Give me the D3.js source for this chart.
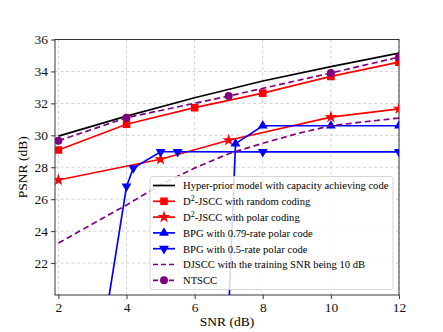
<!DOCTYPE html>
<html>
<head>
<meta charset="utf-8">
<script src="https://cdn.jsdelivr.net/npm/d3@7"></script>
<style>
    html, body { margin: 0; padding: 0; background: #fff; }
    text { font-family: "Liberation Serif", "DejaVu Serif", serif; }
</style>
</head>
<body>
<div id="chart"></div>
<script>
//****************************************************************************************
// PSNR versus SNR: comparison of coding schemes
//****************************************************************************************

// Data
// --------------------------
const snrHyper = [2, 4, 6, 8, 10, 12];
const psnrHyper = [29.95, 31.2, 32.35, 33.4, 34.3, 35.15];

const snrRandom = [2, 4, 6, 8, 10, 12];
const psnrRandom = [29.08, 30.69, 31.73, 32.64, 33.69, 34.58];

const snrPolar = [2, 5, 7, 10, 12];
const psnrPolar = [27.2, 28.5, 29.69, 31.14, 31.66];

const snrBpg79 = [7, 7.2, 8, 10, 12];
const psnrBpg79 = [19, 29.48, 30.6, 30.6, 30.6];

const snrBpg50 = [3, 4, 4.2, 5, 5.5, 8, 12];
const psnrBpg50 = [13.4, 26.8, 27.95, 28.97, 28.97, 28.96, 28.96];

const snrDjscc = [2, 3, 4, 5, 6, 7, 8, 9, 10, 11, 12];
const psnrDjscc = [23.25, 24.45, 25.64, 26.9, 27.95, 28.85, 29.5, 30.1, 30.6, 30.85, 31.08];

const snrNtscc = [2, 4, 7, 10, 12];
const psnrNtscc = [29.66, 31.1, 32.46, 33.9, 34.9];

const xTicks = [2, 4, 6, 8, 10, 12];
const yTicks = [22, 24, 26, 28, 30, 32, 34, 36];

// Series description: label, colour, marker, dash
const series = [
    { label: "Hyper-prior model with capacity achieving code", x: snrHyper, y: psnrHyper, color: "#000000", marker: null, dash: null },
    { label: "D|2|-JSCC with random coding", x: snrRandom, y: psnrRandom, color: "#ff0000", marker: "square", dash: null },
    { label: "D|2|-JSCC with polar coding", x: snrPolar, y: psnrPolar, color: "#ff0000", marker: "star", dash: null },
    { label: "BPG with 0.79-rate polar code", x: snrBpg79, y: psnrBpg79, color: "#0000ff", marker: "up", dash: null },
    { label: "BPG with 0.5-rate polar code", x: snrBpg50, y: psnrBpg50, color: "#0000ff", marker: "down", dash: null },
    { label: "DJSCC with the training SNR being 10 dB", x: snrDjscc, y: psnrDjscc, color: "#800080", marker: null, dash: "6,3.5" },
    { label: "NTSCC", x: snrNtscc, y: psnrNtscc, color: "#800080", marker: "circle", dash: "6,3.5" }
];

// Dimensions
// ----------
const width = 443, height = 332;
const plot = { left: 55, right: 399, top: 39.5, bottom: 295 };

const x = d3.scaleLinear().domain([1.9, 12]).range([plot.left, plot.right]);
const y = d3.scaleLinear().domain([20, 36]).range([plot.bottom, plot.top]);

const svg = d3.select("#chart").append("svg")
    .attr("xmlns", "http://www.w3.org/2000/svg")
    .attr("width", width)
    .attr("height", height);

svg.append("rect")
    .attr("width", width)
    .attr("height", height)
    .style("fill", "#fff");

svg.append("defs").append("clipPath")
    .attr("id", "clip")
    .append("rect")
    .attr("x", plot.left)
    .attr("y", plot.top)
    .attr("width", plot.right - plot.left)
    .attr("height", plot.bottom - plot.top);

// Grid
// ----
const grid = svg.append("g").attr("class", "grid");
grid.selectAll("line.vx")
    .data(xTicks)
    .join("line")
    .attr("x1", d => x(d)).attr("x2", d => x(d))
    .attr("y1", plot.top).attr("y2", plot.bottom)
    .style("stroke", "#c8c8c8").style("stroke-width", 0.8).style("stroke-dasharray", "3,2.5");
grid.selectAll("line.hy")
    .data(yTicks)
    .join("line")
    .attr("x1", plot.left).attr("x2", plot.right)
    .attr("y1", d => y(d)).attr("y2", d => y(d))
    .style("stroke", "#c8c8c8").style("stroke-width", 0.8).style("stroke-dasharray", "3,2.5");

// Axes
// ----
const xAxis = svg.append("g")
    .attr("transform", `translate(0, ${plot.bottom})`)
    .call(d3.axisBottom(x).tickValues(xTicks).tickSize(4).tickPadding(3));
const yAxis = svg.append("g")
    .attr("transform", `translate(${plot.left}, 0)`)
    .call(d3.axisLeft(y).tickValues(yTicks).tickSize(4).tickPadding(3));

[xAxis, yAxis].forEach(a => {
    a.select(".domain").remove();
    a.selectAll("line").style("stroke", "#222").style("stroke-width", 0.9);
    a.selectAll("text")
        .style("font-family", "Liberation Serif, serif")
        .style("font-size", "13.5px")
        .style("fill", "#111");
});

// Frame
svg.append("rect")
    .attr("x", plot.left).attr("y", plot.top)
    .attr("width", plot.right - plot.left)
    .attr("height", plot.bottom - plot.top)
    .style("fill", "none").style("stroke", "#222").style("stroke-width", 0.9);

// Axis labels
svg.append("text")
    .attr("x", (plot.left + plot.right) / 2)
    .attr("y", 326)
    .attr("text-anchor", "middle")
    .style("font-size", "13.5px")
    .text("SNR (dB)");
svg.append("text")
    .attr("transform", `translate(27, ${(plot.top + plot.bottom) / 2}) rotate(-90)`)
    .attr("text-anchor", "middle")
    .style("font-size", "13.5px")
    .text("PSNR (dB)");

// Marker symbol generator
// -----------------------
function markerPath(kind) {
    switch (kind) {
        case "square": return d3.symbol(d3.symbolSquare, 58)();
        case "star": return d3.symbol(d3.symbolStar, 48)();
        case "up":
        case "down": return d3.symbol(d3.symbolTriangle, 42)();
        case "circle": return d3.symbol(d3.symbolCircle, 50)();
    }
    return null;
}

// Lines and markers
// -----------------
const data = svg.append("g").attr("clip-path", "url(#clip)");
const line = d3.line().x(d => x(d[0])).y(d => y(d[1]));

series.forEach(s => {
    const pts = s.x.map((v, i) => [v, s.y[i]]);
    data.append("path")
        .datum(pts)
        .attr("d", line)
        .style("fill", "none")
        .style("stroke", s.color)
        .style("stroke-width", 1.7)
        .style("stroke-dasharray", s.dash);
    if (!s.marker) return;
    data.selectAll(null)
        .data(pts)
        .join("path")
        .attr("d", markerPath(s.marker))
        .attr("transform", d => `translate(${x(d[0])}, ${y(d[1])})` + (s.marker == "down" ? " rotate(180)" : ""))
        .style("fill", s.color);
});

// Legend
// ------
const legend = svg.append("g").attr("transform", "translate(150, 176.5)");
legend.append("rect")
    .attr("width", 243).attr("height", 113)
    .attr("rx", 2.5)
    .style("fill", "#fff").style("fill-opacity", 0.85)
    .style("stroke", "#d0d0d0").style("stroke-width", 0.9);

series.forEach((s, i) => {
    const row = legend.append("g").attr("transform", `translate(0, ${9 + i * 15.8})`);
    row.append("line")
        .attr("x1", 3).attr("x2", 25)
        .style("stroke", s.color).style("stroke-width", 1.7)
        .style("stroke-dasharray", s.dash ? "5,3" : null);
    if (s.marker) {
        row.append("path")
            .attr("d", markerPath(s.marker))
            .attr("transform", "translate(14, 0)" + (s.marker == "down" ? " rotate(180)" : ""))
            .style("fill", s.color);
    }
    const t = row.append("text")
        .attr("x", 33).attr("y", 3.8)
        .style("font-size", "10.6px");
    // "D|2|-..." marks a superscript
    const parts = s.label.split("|");
    if (parts.length == 3) {
        t.append("tspan").text(parts[0]);
        t.append("tspan").attr("dy", -4).style("font-size", "8px").text(parts[1]);
        t.append("tspan").attr("dy", 4).text(parts[2]);
    } else {
        t.text(s.label);
    }
});
</script>
</body>
</html>
